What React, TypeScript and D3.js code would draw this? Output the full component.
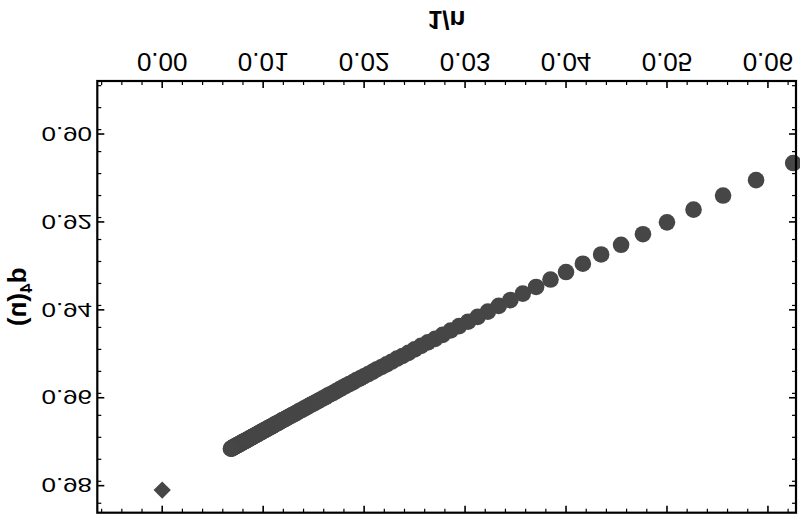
import React from "react";
import * as d3 from "d3";

// n values (x = 1/n) and the plotted d4(n) estimates
const nValues: number[] = [
  16, 17, 18, 19, 20, 21, 22, 23, 24, 25, 26, 27, 28, 29, 30, 31, 32, 33, 34, 35,
  36, 37, 38, 39, 40, 41, 42, 43, 44, 45, 46, 47, 48, 49, 50, 51, 52, 53, 54, 55,
  56, 57, 58, 59, 60, 61, 62, 63, 64, 65, 66, 67, 68, 69, 70, 71, 72, 73, 74, 75,
  76, 77, 78, 79, 80, 81, 82, 83, 84, 85, 86, 87, 88, 89, 90, 91, 92, 93, 94, 95,
  96, 97, 98, 99, 100, 101, 102, 103, 104, 105, 106, 107, 108, 109, 110, 111, 112, 113, 114, 115,
  116, 117, 118, 119, 120, 121, 122, 123, 124, 125, 126, 127, 128, 129, 130, 131, 132, 133, 134, 135,
  136, 137, 138, 139, 140, 141, 142, 143, 144, 145, 146, 147,
];

const d4Values: number[] = [
  0.9066, 0.9105, 0.9140, 0.9172, 0.9201, 0.9228, 0.9252, 0.9274, 0.9295, 0.9314,
  0.9331, 0.9348, 0.9363, 0.9378, 0.9391, 0.9404, 0.9416, 0.9427, 0.9437, 0.9447,
  0.9457, 0.9466, 0.9474, 0.9482, 0.9490, 0.9498, 0.9505, 0.9511, 0.9518, 0.9524,
  0.9530, 0.9535, 0.9541, 0.9546, 0.9551, 0.9556, 0.9560, 0.9565, 0.9569, 0.9573,
  0.9577, 0.9581, 0.9585, 0.9589, 0.9592, 0.9595, 0.9599, 0.9602, 0.9605, 0.9608,
  0.9611, 0.9614, 0.9616, 0.9619, 0.9622, 0.9624, 0.9627, 0.9629, 0.9631, 0.9634,
  0.9636, 0.9638, 0.9640, 0.9642, 0.9644, 0.9646, 0.9648, 0.9650, 0.9651, 0.9653,
  0.9655, 0.9657, 0.9658, 0.9660, 0.9661, 0.9663, 0.9665, 0.9666, 0.9667, 0.9669,
  0.9670, 0.9672, 0.9673, 0.9674, 0.9675, 0.9677, 0.9678, 0.9679, 0.9680, 0.9682,
  0.9683, 0.9684, 0.9685, 0.9686, 0.9687, 0.9688, 0.9689, 0.9690, 0.9691, 0.9692,
  0.9693, 0.9694, 0.9695, 0.9696, 0.9697, 0.9698, 0.9698, 0.9699, 0.9700, 0.9701,
  0.9702, 0.9702, 0.9703, 0.9704, 0.9705, 0.9706, 0.9706, 0.9707, 0.9708, 0.9708,
  0.9709, 0.9710, 0.9710, 0.9711, 0.9712, 0.9712, 0.9713, 0.9714, 0.9714, 0.9715,
  0.9716, 0.9716,
];

// extrapolated value at 1/n = 0 (diamond)
const limitX = [0.0];
const limitY = [0.981];

const xTickValues = [0.0, 0.01, 0.02, 0.03, 0.04, 0.05, 0.06];
const xTickLabels = ["0.00", "0.01", "0.02", "0.03", "0.04", "0.05", "0.06"];
const yTickValues = [0.9, 0.92, 0.94, 0.96, 0.98];
const yTickLabels = ["0.90", "0.92", "0.94", "0.96", "0.98"];

const W = 800;
const H = 515;
const left = 97.3;
const right = 796;
const top = 2.3;
const bottom = 434;

const x = d3.scaleLinear().domain([-0.00643, 0.06278]).range([left, right]);
const y = d3.scaleLinear().domain([0.88794, 0.98615]).range([bottom, top]);

const xMinor = d3.range(-6, 63, 2).map((v) => v / 1000).filter((v) => !xTickValues.some((t) => Math.abs(t - v) < 1e-9));
const yMinor = d3.range(889, 987, 5).map((v) => v / 1000).filter((v) => v >= 0.888 && !yTickValues.some((t) => Math.abs(t - v) < 1e-9));

const PT = "#464646";
const FONT = "'Liberation Sans', Arial, sans-serif";

export default function App() {
  const majorLen = 7;
  const minorLen = 4;
  const diamond = d3.symbol().type(d3.symbolDiamond2).size(190)();
  return (
    <svg width={W} height={H} style={{ position: "absolute", left: 0, top: 0, background: "#fff" }}>
      <rect x={0} y={0} width={W} height={H} fill="#fff" />
      <g transform={`translate(0,${H}) scale(1,-1)`}>
        {/* points */}
        {nValues.map((n, i) => (
          <circle key={n} cx={x(1 / n)} cy={y(d4Values[i])} r={8.3} fill={PT} />
        ))}
        {limitX.map((v, i) => (
          <path key={i} d={diamond as string} transform={`translate(${x(v)},${y(limitY[i])})`} fill={PT} />
        ))}

        {/* ticks on all four sides */}
        {xTickValues.map((v) => (
          <g key={"xt" + v}>
            <line x1={x(v)} x2={x(v)} y1={bottom} y2={bottom - majorLen} stroke="#000" strokeWidth={1.6} />
            <line x1={x(v)} x2={x(v)} y1={top} y2={top + majorLen} stroke="#000" strokeWidth={1.6} />
          </g>
        ))}
        {xMinor.map((v) => (
          <g key={"xm" + v}>
            <line x1={x(v)} x2={x(v)} y1={bottom} y2={bottom - minorLen} stroke="#000" strokeWidth={1.2} />
            <line x1={x(v)} x2={x(v)} y1={top} y2={top + minorLen} stroke="#000" strokeWidth={1.2} />
          </g>
        ))}
        {yTickValues.map((v) => (
          <g key={"yt" + v}>
            <line x1={left} x2={left + majorLen} y1={y(v)} y2={y(v)} stroke="#000" strokeWidth={1.6} />
            <line x1={right} x2={right - majorLen} y1={y(v)} y2={y(v)} stroke="#000" strokeWidth={1.6} />
          </g>
        ))}
        {yMinor.map((v) => (
          <g key={"ym" + v}>
            <line x1={left} x2={left + minorLen} y1={y(v)} y2={y(v)} stroke="#000" strokeWidth={1.2} />
            <line x1={right} x2={right - minorLen} y1={y(v)} y2={y(v)} stroke="#000" strokeWidth={1.2} />
          </g>
        ))}

        {/* frame */}
        <rect x={left} y={top} width={right - left} height={bottom - top} fill="none" stroke="#000" strokeWidth={2.2} />

        {/* tick labels */}
        {xTickValues.map((v, i) => (
          <text key={"xl" + v} x={x(v)} y={462} textAnchor="middle" fontFamily={FONT} fontSize={26} fill="#000">
            {xTickLabels[i]}
          </text>
        ))}
        {yTickValues.map((v, i) => (
          <text
            key={"yl" + v}
            transform={`translate(92,${y(v)}) scale(1,0.78)`}
            y={9.3}
            textAnchor="end"
            fontFamily={FONT}
            fontSize={26}
            fill="#000"
          >
            {yTickLabels[i]}
          </text>
        ))}

        {/* axis titles */}
        <text x={(left + right) / 2} y={504} textAnchor="middle" fontFamily={FONT} fontSize={26} fontWeight="bold" fill="#000">
          1/n
        </text>
        <text
          transform={`translate(26,${(top + bottom) / 2}) rotate(-90)`}
          textAnchor="middle"
          fontFamily={FONT}
          fontSize={26}
          fontWeight="bold"
          fill="#000"
        >
          d<tspan fontSize={17} dy={6}>4</tspan>
          <tspan dy={-6}>(n)</tspan>
        </text>
      </g>
    </svg>
  );
}
